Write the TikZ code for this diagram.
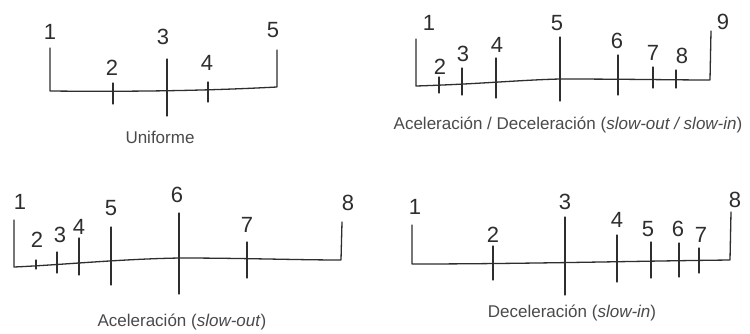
\documentclass[tikz,border=0pt]{standalone}
\usepackage{fontspec}
\setmainfont{Liberation Sans}
\definecolor{pencil}{HTML}{2E2E2E}
\definecolor{captiongray}{HTML}{4A4A4A}
\tikzset{
  axis/.style={draw=pencil, line width=1.3pt, line join=round, line cap=round},
  tick/.style={draw=pencil, line width=1.2pt, line cap=round},
  num/.style={text=pencil, font=\fontsize{22}{22}\selectfont, inner sep=0pt},
  caption/.style={text=captiongray, font=\fontsize{17}{18}\selectfont, inner sep=0pt}
}
\begin{document}
\begin{tikzpicture}[x=1pt,y=-1pt]
\useasboundingbox[fill=white] (0,0) rectangle (750,333);

% ---- Uniforme ----
\coordinate (u0t) at (50,48);  \coordinate (u0b) at (50,91);
\coordinate (u4t) at (277,50); \coordinate (u4b) at (277,87);
\draw[axis] (u0t) -- (u0b) .. controls (150,92) and (220,90) .. (u4b) -- (u4t);
\draw[tick] (113,83) -- (113,104);
\draw[tick] (167,59) -- (167,116);
\draw[tick] (208,82) -- (208,102);
\node[num] (u1) at (50,32) {1};
\node[num] (u2) at (112,68) {2};
\node[num] (u3) at (163,37) {3};
\node[num] (u4) at (207,63) {4};
\node[num] (u5) at (273,30) {5};
\node[caption] (ucap) at (160,137) {Uniforme};

% ---- Aceleración / Deceleración ----
\coordinate (a0t) at (416,39);  \coordinate (a0b) at (416,86);
\coordinate (a8t) at (711,31);  \coordinate (a8b) at (710,80);
\draw[axis] (a0t) -- (a0b) .. controls (480,84) and (520,80) .. (560,79)
  .. controls (620,79) and (680,80) .. (a8b) -- (a8t);
\draw[tick] (439,77) -- (439,93);
\draw[tick] (462,68) -- (462,95);
\draw[tick] (496,58) -- (496,98);
\draw[tick] (560,37) -- (560,101);
\draw[tick] (618,55) -- (618,95);
\draw[tick] (653,67) -- (653,88);
\draw[tick] (676,70) -- (676,88);
\node[num] (a1) at (429,23) {1};
\node[num] (a2) at (440,67) {2};
\node[num] (a3) at (463,54) {3};
\node[num] (a4) at (497,45) {4};
\node[num] (a5) at (557,23) {5};
\node[num] (a6) at (617,41) {6};
\node[num] (a7) at (653,53) {7};
\node[num] (a8) at (682,56) {8};
\node[num] (a9) at (723,22) {9};
\node[caption] (acap) at (568,125) {Aceleración / Deceleración (\textit{slow-out / slow-in})};

% ---- Aceleración ----
\coordinate (s0t) at (14,220);  \coordinate (s0b) at (14,267);
\coordinate (s7t) at (342,222); \coordinate (s7b) at (341,260);
\draw[axis] (s0t) -- (s0b) .. controls (60,265) and (120,259) .. (180,258)
  .. controls (240,258) and (300,260) .. (s7b) -- (s7t);
\draw[tick] (36,260) -- (36,269);
\draw[tick] (57,252) -- (57,273);
\draw[tick] (79,238) -- (79,275);
\draw[tick] (111,227) -- (111,285);
\draw[tick] (179,213) -- (179,294);
\draw[tick] (247,242) -- (247,278);
\node[num] (s1) at (20,202) {1};
\node[num] (s2) at (37,240) {2};
\node[num] (s3) at (60,235) {3};
\node[num] (s4) at (79,227) {4};
\node[num] (s5) at (111,208) {5};
\node[num] (s6) at (177,195) {6};
\node[num] (s7) at (247,225) {7};
\node[num] (s8) at (348,203) {8};
\node[caption] (scap) at (182,322) {Aceleración (\textit{slow-out})};

% ---- Deceleración ----
\coordinate (d0t) at (412,225);  \coordinate (d0b) at (412,264);
\coordinate (d7t) at (731,212);  \coordinate (d7b) at (730,260);
\draw[axis] (d0t) -- (d0b) .. controls (520,264) and (640,261) .. (d7b) -- (d7t);
\draw[tick] (493,246) -- (493,280);
\draw[tick] (565,217) -- (565,295);
\draw[tick] (617,235) -- (617,282);
\draw[tick] (651,242) -- (651,278);
\draw[tick] (679,243) -- (679,277);
\draw[tick] (699,248) -- (699,273);
\node[num] (d1) at (415,207) {1};
\node[num] (d2) at (493,235) {2};
\node[num] (d3) at (565,202) {3};
\node[num] (d4) at (617,220) {4};
\node[num] (d5) at (648,229) {5};
\node[num] (d6) at (678,229) {6};
\node[num] (d7) at (701,235) {7};
\node[num] (d8) at (735,200) {8};
\node[caption] (dcap) at (572,313) {Deceleración (\textit{slow-in})};
\end{tikzpicture}
\end{document}
